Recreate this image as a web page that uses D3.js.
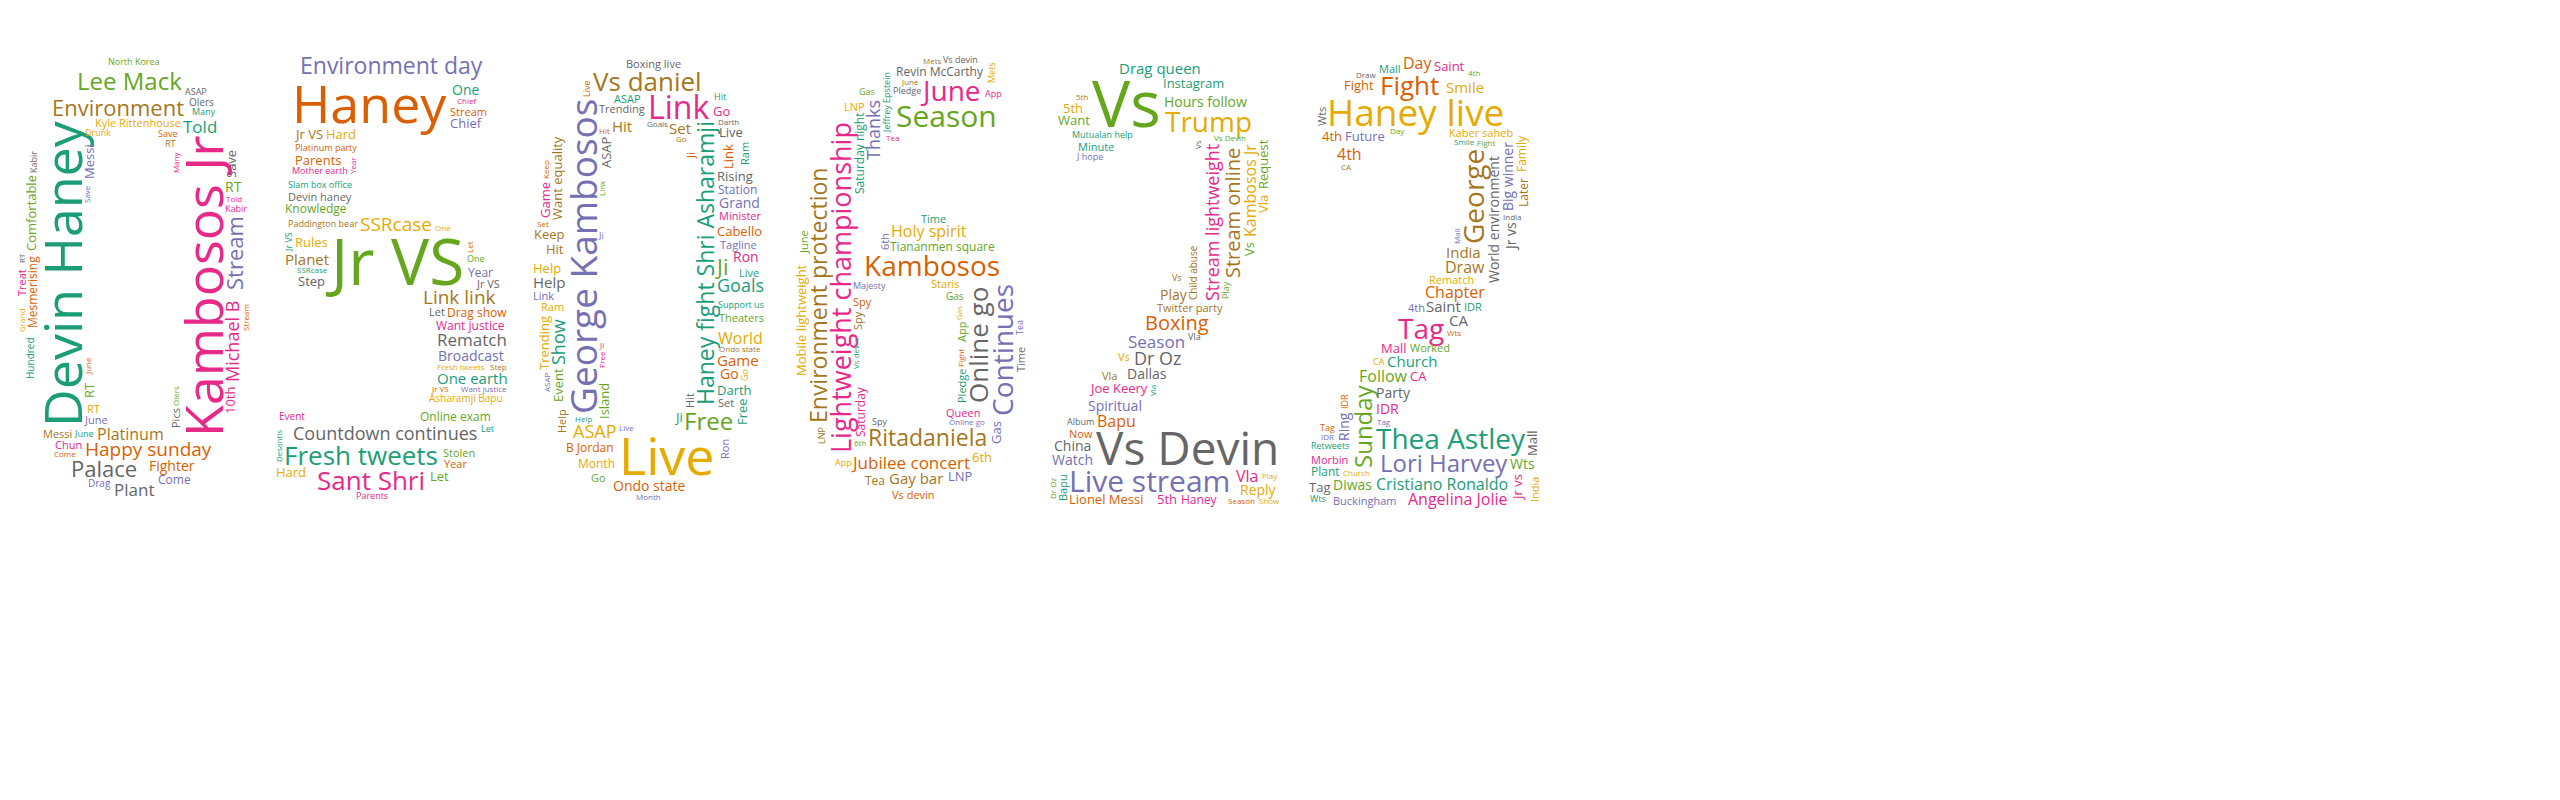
<!DOCTYPE html>
<html><head><meta charset="utf-8">
<script src="https://cdn.jsdelivr.net/npm/d3@7"></script>
<style>body{margin:0;background:#fff}</style>
</head><body>
<div class="canvas"></div>
<script>
// digit shapes of the cloud, left to right
var digits = ["0", "5", "0", "6", "2", "2"];

// [word, weight, vertical]
var words0 = [["Devin Haney",74,1],["Kambosos Jr",62,1],["Environment",32,0],["Happy sunday",28,0],["Lee Mack",24,0],
  ["Palace",22,0],["Stream",22,1],["Kyle Rittenhouse",17,0],["Told",20,0],["Michael B",18,1],["Platinum",16,0],
  ["Fighter",14,0],["North Korea",14,0],["Plant",17,0],["Come",15,0],["Cambridge",13,0],["God Kabir",14,0],
  ["Chun",14,0],["Messi",13,0],["Pizza hut",13,0],["Comfortable",13,1],["Olers",15,0],["Drag",15,0],["Drunk",13,0],
  ["Many",13,0],["Kabir",13,0],["Treat",12,0],["Save",13,0],["Street",12,0],["Prince",13,0],["June",11,0],
  ["Morning",11,0],["Write",13,0],["Kashmir",12,0],["Link link",12,0],["Mesmerising",12,1],["RT",14,0],["Pics",11,1],
  ["Movie",11,0],["10th",12,0],["Hundred",12,1],["ASAP",10,0],["Grand",10,0]];
var words1 = [["Haney",52,0],["Jr VS",64,0],["Countdown continues",32,0],["Environment day",28,0],["SSRcase",28,0],
  ["Fresh tweets",26,0],["Sant Shri",26,0],["Link link",28,0],["Drag show",26,0],["Online exam",26,0],
  ["Rematch",24,0],["Broadcast",24,0],["Asharamji Bapu",22,0],["One earth",22,0],["Want justice",22,0],
  ["Paddington bear",16,0],["Platinum party",14,0],["Knowledge",15,0],["Devin haney",13,0],["Chief",13,0],
  ["Hard",13,0],["Slam box office",14,0],["Mother earth",13,0],["Planet",15,0],["Parents",13,0],["Stolen",14,0],
  ["Step",13,0],["Year",12,0],["Rules",13,0],["One",14,0],["North korea",11,1],["Uttar Pradesh",12,0],
  ["Stream",11,0],["Let",13,0],["Haney live",12,0],["Ondo state",11,1],["Desantis",12,0],["Environment",11,0],["Event",10,0]];
var words2 = [["George Kambosos",62,1],["Live",52,0],["Haney fight Shri Asharamji",28,1],["Link",32,0],
  ["Vs daniel",26,0],["Ondo state",24,0],["Free",24,0],["Boxing live",24,0],["Kathy Griffin",22,0],["ASAP",22,0],
  ["Goals",22,0],["Happy weekend",20,0],["Want equality",18,0],["B Jordan",18,0],["Ji",22,0],["Trending",16,0],
  ["Station",15,0],["Month",15,0],["Support us",16,0],["Blessed sunday",16,0],["Hit",15,0],["Game",15,0],
  ["Theaters",14,0],["Help",15,0],["Grand",14,0],["World",16,0],["Show",18,1],["Minister",14,0],["Set",15,0],
  ["Cabello",13,0],["Island",13,1],["Rising",13,0],["Tagline",14,0],["Post proof",13,0],["Darth",13,0],
  ["Ron",14,0],["Keep",13,0],["Go",14,0],["Event",13,1],["Stream online",12,0],["Online go",12,0],["Ram",14,0]];
var words3 = [["Lightweight championship",32,1],["Environment protection",28,1],["Kambosos",34,0],["Season",30,0],
  ["Online go",26,1],["Continues",28,1],["Mobile lightweight",28,1],["Saturday night",26,1],["June",28,0],
  ["Ritadaniela",28,0],["Jubilee concert",20,0],["Tiananmen square",18,0],["Revin McCarthy",18,0],["Thanks",18,1],
  ["Holy spirit",16,0],["Jeffrey Epstein",16,1],["Queen",16,0],["Gay bar",15,0],["Vs devin",16,0],
  ["Main event",16,0],["Pledge",14,0],["Majesty",13,0],["Staris",13,0],["Time",14,0],["Saturday",18,1],["Tea",15,0],
  ["Spy",13,0],["Gas",15,0],["Makes",14,0],["Beloved",14,0],["Mobile",14,0],["Justice",14,0],["App",14,0],
  ["Anthology",13,0],["January",13,0],["Nupur Sharma",13,0],["Broadcast",12,0],["LNP",13,0],["6th",13,0],
  ["Fight",12,0],["Mets",12,0],["World",12,0],["Special olympics",12,1]];
var words4 = [["Vs",64,0],["Vs Devin",46,0],["Live stream",30,0],["Trump",28,0],["Drag queen",26,0],
  ["Stream lightweight",26,1],["Stream online",24,1],["Boxing",24,0],["Hours follow",24,0],["Dr Oz",18,0],
  ["Season",17,0],["Kambosos Jr",16,1],["Instagram",16,0],["Joe Keery",16,0],["Twitter party",16,0],
  ["Lionel Messi",16,0],["Prophet Muhammad",14,0],["Dallas",14,0],["Spiritual",14,0],["Countdown continues",14,0],
  ["Mutualan help",13,0],["Vla",16,0],["Play",14,0],["Bapu",16,0],["Want",16,0],["China",14,0],["Watch",14,0],
  ["Reply",14,0],["Minute",13,0],["Haney",12,0],["Child abuse",12,1],["Now",14,0],["Request",13,1],
  ["Album",13,0],["J hope",13,0],["5th",13,0],["Game",12,0],["Queen",12,0],["Show",12,0],["Kambosos",12,0]];
var words5 = [["Haney live",62,0],["Thea Astley",28,0],["Tag",28,0],["George",28,1],["Fight",26,0],
  ["Sunday",24,1],["World environment",24,1],["Lori Harvey",24,0],["Kaber saheb",20,0],["Cristiano Ronaldo",16,0],
  ["Angelina Jolie",16,0],["India",15,0],["Chapter",16,0],["Follow",16,0],["Saint",15,0],["Future",13,0],
  ["Smile",15,0],["Church",15,0],["Mall",13,0],["Draw",16,0],["Day",16,0],["Diwas",14,0],["Party",14,0],
  ["Buckingham",14,0],["Rematch",13,0],["Retweets",14,0],["Morbin",14,0],["Mike Smith",14,0],["4th",16,0],
  ["Wts",14,0],["Jr vs",14,1],["Big winner",14,1],["Family",12,1],["Mobile lightweight",12,0],["IDR",14,0],
  ["Later",12,1],["Gurmeet",13,0],["Worked",13,0],["CA",15,0],["Ring",14,1],["Boxing live",12,0],["Plant",12,0]];
var lists = [words0, words1, words2, words3, words4, words5];

(function() {
var W = 1560, H = 540, yTop = 48, yBottom = 505;
var font = "'Liberation Sans Narrow', 'Open Sans', sans-serif";
var palette = d3.schemeDark2;

var svg = d3.select(".canvas").append("svg").attr("width", 2560).attr("height", 800);

var band = d3.scaleBand().domain(d3.range(digits.length)).range([15, 1545]).paddingInner(0.06);

// mask of the digit shapes
var cv = document.createElement("canvas");
cv.width = W; cv.height = H;
var ctx = cv.getContext("2d");
ctx.fillStyle = "#000";
digits.forEach(function(d, i) {
  ctx.setTransform(1, 0, 0, 1, 0, 0);
  ctx.font = "bold 400px " + font;
  var m = ctx.measureText(d);
  var gw = m.actualBoundingBoxLeft + m.actualBoundingBoxRight;
  var gh = m.actualBoundingBoxAscent + m.actualBoundingBoxDescent;
  var sx = band.bandwidth() / gw, sy = (yBottom - yTop) / gh;
  ctx.setTransform(sx, 0, 0, sy, band(i) + m.actualBoundingBoxLeft * sx, yTop + m.actualBoundingBoxAscent * sy);
  ctx.fillText(d, 0, 0);
});
ctx.setTransform(1, 0, 0, 1, 0, 0);
var px = ctx.getImageData(0, 0, W, H).data;
var mask = new Uint8Array(W * H), occ = new Uint8Array(W * H);
for (var k = 0; k < W * H; k++) mask[k] = px[k * 4 + 3] > 128 ? 1 : 0;

function fits(x0, y0, w, h, bx0, bx1) {
  if (x0 < bx0 || x0 + w > bx1 || y0 < 0 || y0 + h >= H) return false;
  for (var y = y0; y <= y0 + h; y += 2) {
    for (var x = x0; x <= x0 + w; x += 2) {
      var p = y * W + x;
      if (!mask[p] || occ[p]) return false;
    }
  }
  return true;
}
function mark(x0, y0, w, h) {
  for (var y = Math.max(0, y0 - 1); y <= Math.min(H - 1, y0 + h + 1); y++)
    for (var x = Math.max(0, x0 - 1); x <= Math.min(W - 1, x0 + w + 1); x++) occ[y * W + x] = 1;
}

function place(i, text, size, vert, k, color) {
  ctx.font = size + "px " + font;
  var tw = Math.ceil(ctx.measureText(text).width);
  var th = Math.ceil(size * 0.8);
  var w = vert ? th : tw, h = vert ? tw : th;
  var bx0 = Math.floor(band(i)), bx1 = Math.ceil(band(i) + band.bandwidth());
  var cx = band(i) + band.bandwidth() / 2 + (((k * 0.618) % 1) - 0.5) * band.bandwidth() * 0.5;
  var cy = (yTop + yBottom) / 2 + (((k * 0.7548) % 1) - 0.5) * (yBottom - yTop) * 0.7;
  for (var t = 0; t < 380; t += 0.1) {
    var r = 1.0 * t;
    var x0 = Math.round(cx + r * Math.cos(t) * 0.6 - w / 2);
    var y0 = Math.round(cy + r * Math.sin(t) - h / 2);
    if (fits(x0, y0, w, h, bx0, bx1)) {
      mark(x0, y0, w, h);
      var g = svg.append("text")
        .attr("font-family", font)
        .attr("font-size", size + "px")
        .attr("fill", color)
        .text(text);
      if (vert) g.attr("transform", "translate(" + (x0 + size * 0.8) + "," + (y0 + h) + ") rotate(-90)");
      else g.attr("x", x0).attr("y", y0 + size * 0.8);
      return true;
    }
    if (r > 320) break;
  }
  return false;
}

lists.forEach(function(list, i) {
  list.forEach(function(wd, k) {
    var s = wd[1], c = palette[(k * 3 + i) % 8];
    while (s >= 9 && !place(i, wd[0], s, wd[2], k, c)) s = Math.floor(s * 0.85);
  });
  // small fill words
  [13, 11, 9, 8].forEach(function(s, p) {
    list.forEach(function(wd, k) {
      place(i, wd[0], s, (k + p) % 3 === 0, k + p * 7 + 3, palette[(k * 5 + p + i) % 8]);
    });
  });
});
})();
</script>
</body></html>
